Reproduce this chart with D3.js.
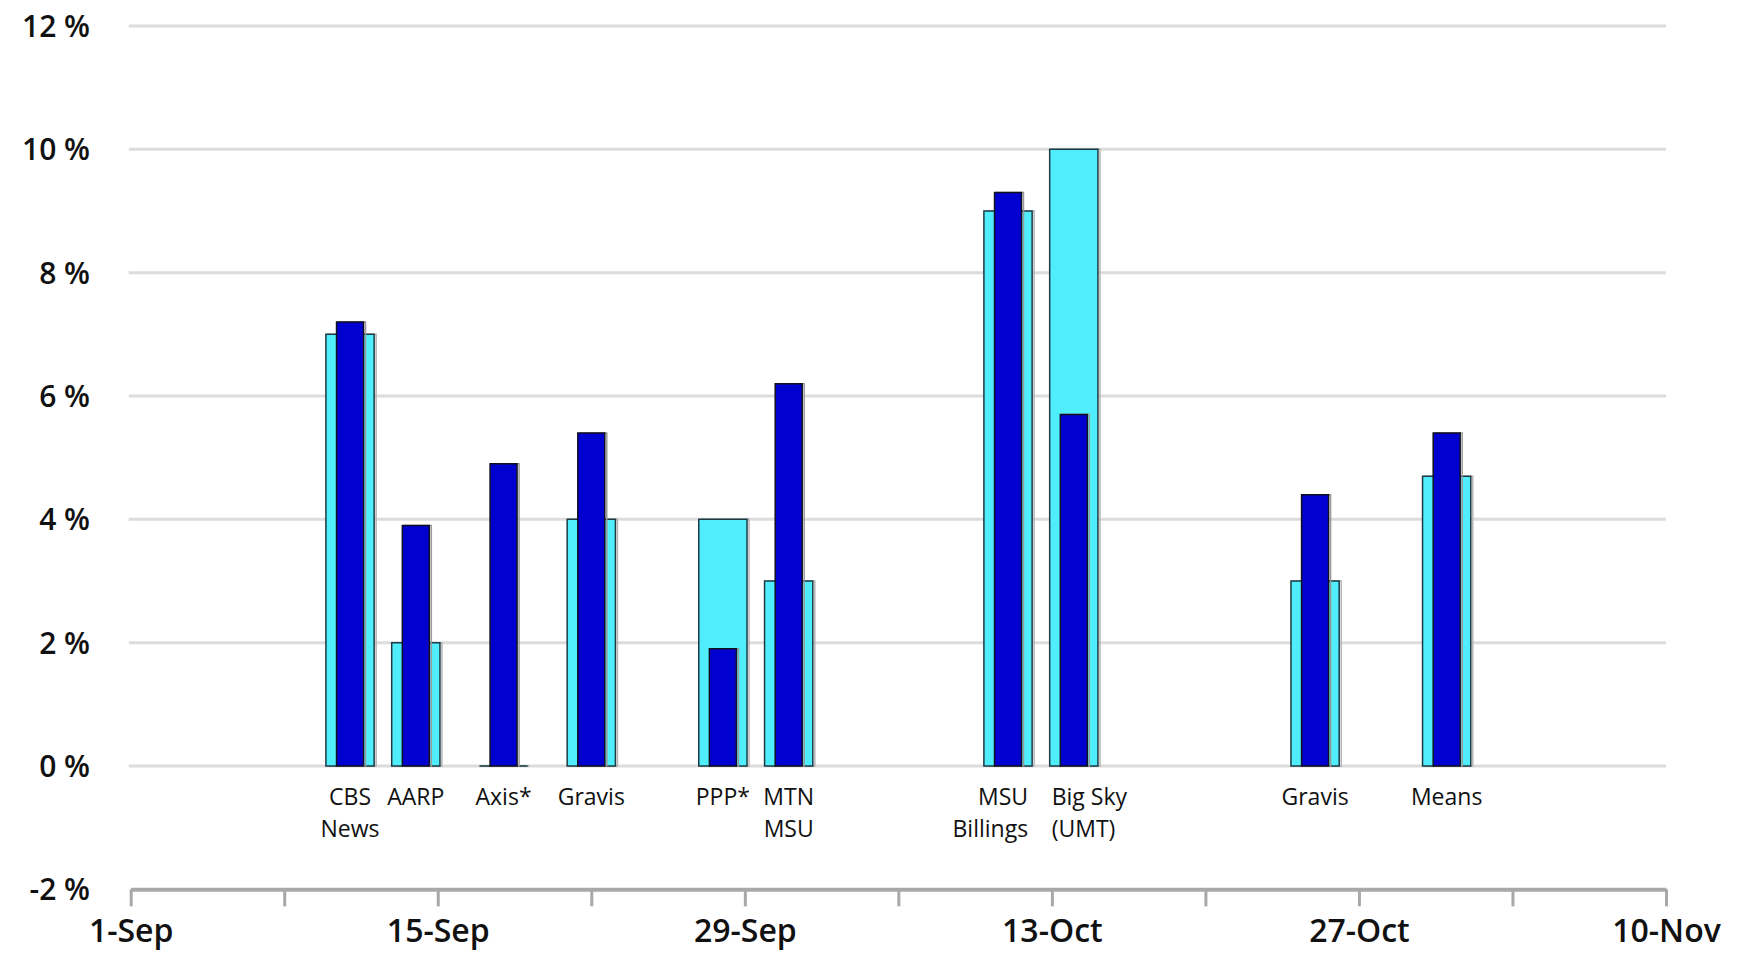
<!DOCTYPE html>
<html>
<head>
<meta charset="utf-8">
<script src="https://cdn.jsdelivr.net/npm/d3@7"></script>
<style>
  body { margin: 0; background: #fff; }
  svg { display: block; }
</style>
</head>
<body>
<div id="chart"></div>
<script>
// donnees
var pollsters = [["CBS", "News"], ["AARP"], ["Axis*"], ["Gravis"], ["PPP*"], ["MTN", "MSU"],
                 ["MSU", "Billings"], ["Big Sky", "(UMT)"], ["Gravis"], ["Means"]];
var pollDates = ["2018-09-11", "2018-09-14", "2018-09-18", "2018-09-22", "2018-09-28", "2018-10-01",
                 "2018-10-11", "2018-10-14", "2018-10-25", "2018-10-31"];
var lightValues = [7, 2, 0, 4, 4, 3, 9, 10, 3, 4.7];
var darkValues = [7.2, 3.9, 4.9, 5.4, 1.9, 6.2, 9.3, 5.7, 4.4, 5.4];
var yTicks = [-2, 0, 2, 4, 6, 8, 10, 12];
var startDate = "2018-09-01", endDate = "2018-11-10";

var width = 1739, height = 956;
var parse = d3.timeParse("%Y-%m-%d");
var dates = pollDates.map(parse);

var svg = d3.select("#chart").append("svg").attr("width", width).attr("height", height);

var x = d3.scaleTime().domain([parse(startDate), parse(endDate)]).range([130.7, 1666]);
var y = d3.scaleLinear().domain([-2, 12]).range([889.3, 26]);
var dayPx = x(d3.timeDay.offset(parse(startDate), 1)) - x(parse(startDate));

// lignes de grille
svg.append("g").selectAll("line")
    .data(yTicks.filter(function(t) { return t >= 0; }))
    .enter().append("line")
    .attr("x1", x.range()[0] - 2).attr("x2", x.range()[1])
    .attr("y1", function(d) { return y(d); }).attr("y2", function(d) { return y(d); })
    .attr("stroke", "#dcdcdc").attr("stroke-width", 3);

// axe Y (etiquettes seulement)
var yAxis = svg.append("g").attr("transform", "translate(90,0)")
    .call(d3.axisLeft(y).tickValues(yTicks).tickSize(0).tickPadding(0)
        .tickFormat(function(d) { return d + " %"; }));
yAxis.select(".domain").remove();
yAxis.selectAll("text").attr("font-family", "'Open Sans', sans-serif")
    .attr("font-size", 30).attr("font-weight", 600).attr("fill", "#111").attr("dy", "0.35em");

// axe X
var xTickDates = d3.range(0, 71, 7).map(function(k) { return d3.timeDay.offset(parse(startDate), k); });
var fmt = d3.timeFormat("%-d-%b");
var xAxis = svg.append("g").attr("transform", "translate(0," + y(-2) + ")")
    .call(d3.axisBottom(x).tickValues(xTickDates).tickSize(17).tickSizeOuter(0).tickPadding(13)
        .tickFormat(function(d, i) { return i % 2 === 0 ? fmt(d) : ""; }));
xAxis.select(".domain").attr("stroke", "#a8a8a8").attr("stroke-width", 4);
xAxis.selectAll(".tick line").attr("stroke", "#a8a8a8").attr("stroke-width", 3);
xAxis.selectAll("text").attr("font-family", "'Open Sans', sans-serif")
    .attr("font-size", 32).attr("font-weight", 600).attr("fill", "#111");

function barPath(cx, w, v) {
    var x0 = cx - w / 2, x1 = cx + w / 2;
    return "M" + x0 + "," + y(0) + "V" + y(v) + "H" + x1 + "V" + y(0) + "Z";
}

var lightW = 2.2 * dayPx, darkW = 1.23 * dayPx;
var bars = svg.append("g");

dates.forEach(function(d, i) {
    var cx = x(d);
    // ombre
    bars.append("path").attr("d", barPath(cx + 2, lightW, lightValues[i]))
        .attr("fill", "none").attr("stroke", "#b5b5b5").attr("stroke-width", 1.5);
    bars.append("path").attr("d", barPath(cx, lightW, lightValues[i]))
        .attr("fill", "#50eefc").attr("stroke", "#1d3a44").attr("stroke-width", 1.5);
    bars.append("path").attr("d", barPath(cx + 2, darkW, darkValues[i]))
        .attr("fill", "none").attr("stroke", "#9a9a9a").attr("stroke-width", 1.5);
    bars.append("path").attr("d", barPath(cx, darkW, darkValues[i]))
        .attr("fill", "#0000d0").attr("stroke", "#101020").attr("stroke-width", 1.5);
});

// etiquettes des sondages
var labels = svg.append("g").selectAll("text")
    .data(pollsters).enter().append("text")
    .attr("font-family", "'Open Sans', sans-serif").attr("font-size", 23).attr("fill", "#111")
    .attr("text-anchor", "middle")
    .attr("x", function(d, i) { return x(dates[i]); })
    .attr("y", 805);
labels.each(function(lines, i) {
    var t = d3.select(this);
    lines.forEach(function(l, j) {
        t.append("tspan").attr("x", x(dates[i])).attr("dy", j === 0 ? 0 : 32).text(l);
    });
});

// eviter les chevauchements entre etiquettes voisines
var nodes = labels.nodes();
for (var i = 0; i < nodes.length - 1; i++) {
    var a = nodes[i].getBBox(), b = nodes[i + 1].getBBox();
    if (a.x + a.width + 4 > b.x) {
        var ca = x(dates[i]) + lightW / 2 - 4;
        var cb = x(dates[i + 1]) - lightW / 2 + 2;
        d3.select(nodes[i]).attr("text-anchor", "end").selectAll("tspan").attr("x", ca);
        d3.select(nodes[i + 1]).attr("text-anchor", "start").selectAll("tspan").attr("x", cb);
    }
}
</script>
</body>
</html>
